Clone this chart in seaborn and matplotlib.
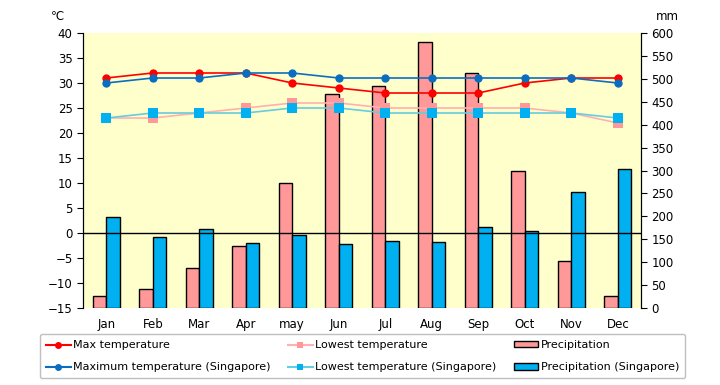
import numpy as np
import pandas as pd
import matplotlib.pyplot as plt
import seaborn as sns
from matplotlib.lines import Line2D
from matplotlib.patches import Patch

# ------------------------------------------------------------------
# Data
# ------------------------------------------------------------------
months = ['Jan', 'Feb', 'Mar', 'Apr', 'may', 'Jun',
          'Jul', 'Aug', 'Sep', 'Oct', 'Nov', 'Dec']

max_temp = [31, 32, 32, 32, 30, 29, 28, 28, 28, 30, 31, 31]
low_temp = [23, 23, 24, 25, 26, 26, 25, 25, 25, 25, 24, 22]
max_temp_sg = [30, 31, 31, 32, 32, 31, 31, 31, 31, 31, 31, 30]
low_temp_sg = [23, 24, 24, 24, 25, 25, 24, 24, 24, 24, 24, 23]

precip = [27, 41, 88, 136, 273, 467, 484, 580, 513, 299, 103, 26]
precip_sg = [199, 155, 172, 142, 159, 140, 146, 144, 177, 169, 253, 303]

# colours
c_max = '#FF0000'
c_max_sg = '#0A6EC0'
c_low = '#FF9999'
c_low_line = '#FFB0B0'
c_low_sg = '#00B0F0'
c_low_sg_line = '#66CCE0'
c_bar = '#FF9999'
c_bar_sg = '#00B0F0'

plt.rcParams['font.family'] = ['DejaVu Sans', 'Noto Sans CJK JP']

fig = plt.figure(figsize=(7.2, 3.85), dpi=100)
ax = fig.add_axes([83 / 720, 1 - 308 / 385, (641 - 83) / 720, (308 - 33) / 385])
ax2 = ax.twinx()

# --- bars (precipitation, right scale) ---
df_bar = pd.DataFrame({
    'month': months * 2,
    'mm': precip + precip_sg,
    'series': ['Precipitation'] * 12 + ['Precipitation (Singapore)'] * 12,
})
sns.barplot(data=df_bar, x='month', y='mm', hue='series',
            palette=[c_bar, c_bar_sg], width=0.58, edgecolor='black',
            linewidth=1, saturation=1, legend=False, ax=ax)
ax.set_facecolor('#FFFFCC')
ax.set_ylim(0, 600)
ax.set_xlim(-0.5, 11.5)
ax.set_yticks(np.arange(0, 601, 50))
ax.yaxis.tick_right()
ax.yaxis.set_label_position('right')
ax.set_xlabel('')
ax.set_ylabel('')

# --- lines (temperature, left scale) ---
x = np.arange(len(months))
sns.lineplot(x=x, y=low_temp, color=c_low_line, marker='s', markersize=6.5,
             markerfacecolor=c_low, markeredgewidth=0, linewidth=1.2, ax=ax2)
sns.lineplot(x=x, y=low_temp_sg, color=c_low_sg_line, marker='s', markersize=6.5,
             markerfacecolor=c_low_sg, markeredgewidth=0, linewidth=1.2, ax=ax2)
sns.lineplot(x=x, y=max_temp, color=c_max, marker='o', markersize=6,
             markeredgewidth=0, linewidth=1.2, ax=ax2)
sns.lineplot(x=x, y=max_temp_sg, color=c_max_sg, marker='o', markersize=6,
             markeredgewidth=0, linewidth=1.2, ax=ax2)
ax2.axhline(0, color='black', linewidth=1, zorder=1)
ax2.set_ylim(-15, 40)
ax2.set_yticks(np.arange(-15, 41, 5))
ax2.yaxis.tick_left()
ax2.set_xlim(-0.5, 11.5)

# --- cosmetics ---
for a in (ax, ax2):
    a.spines['top'].set_visible(False)
    a.spines['bottom'].set_visible(False)
    a.spines['left'].set_color('black')
    a.spines['right'].set_color('black')
    a.tick_params(axis='y', labelsize=8.5, length=4, color='black')
    a.tick_params(axis='x', length=0, labelsize=8.5, pad=7)
ax.set_xticks(x)
ax.set_xticklabels(months)
ax2.tick_params(axis='x', labelbottom=False)

fig.text(57 / 720, 1 - 16 / 385, '℃', fontsize=8.5, ha='center', va='center')
fig.text(667 / 720, 1 - 16 / 385, 'mm', fontsize=8.5, ha='center', va='center')

# --- legend ---
handles = [
    Line2D([], [], color=c_max, marker='o', markersize=5, markeredgewidth=0),
    Line2D([], [], color=c_max_sg, marker='o', markersize=5, markeredgewidth=0),
    Line2D([], [], color=c_low_line, marker='s', markersize=5,
           markerfacecolor=c_low, markeredgewidth=0),
    Line2D([], [], color=c_low_sg_line, marker='s', markersize=5,
           markerfacecolor=c_low_sg, markeredgewidth=0),
    Patch(facecolor=c_bar, edgecolor='black', linewidth=1),
    Patch(facecolor=c_bar_sg, edgecolor='black', linewidth=1),
]
labels = ['Max temperature', 'Maximum temperature (Singapore)',
          'Lowest temperature', 'Lowest temperature (Singapore)',
          'Precipitation', 'Precipitation (Singapore)']
leg = fig.legend(handles, labels, ncol=3, loc='upper left',
                 bbox_to_anchor=(40 / 720, 1 - 383 / 385, 645 / 720, 49 / 385),
                 mode='expand', fontsize=8, frameon=True, fancybox=True,
                 handlelength=2.2, handleheight=0.5, handletextpad=0.2,
                 labelspacing=1.1, borderpad=0.55, borderaxespad=0)
leg.get_frame().set_edgecolor('#B0B0B0')
leg.get_frame().set_linewidth(1)

fig.savefig('out.png', dpi=100)
